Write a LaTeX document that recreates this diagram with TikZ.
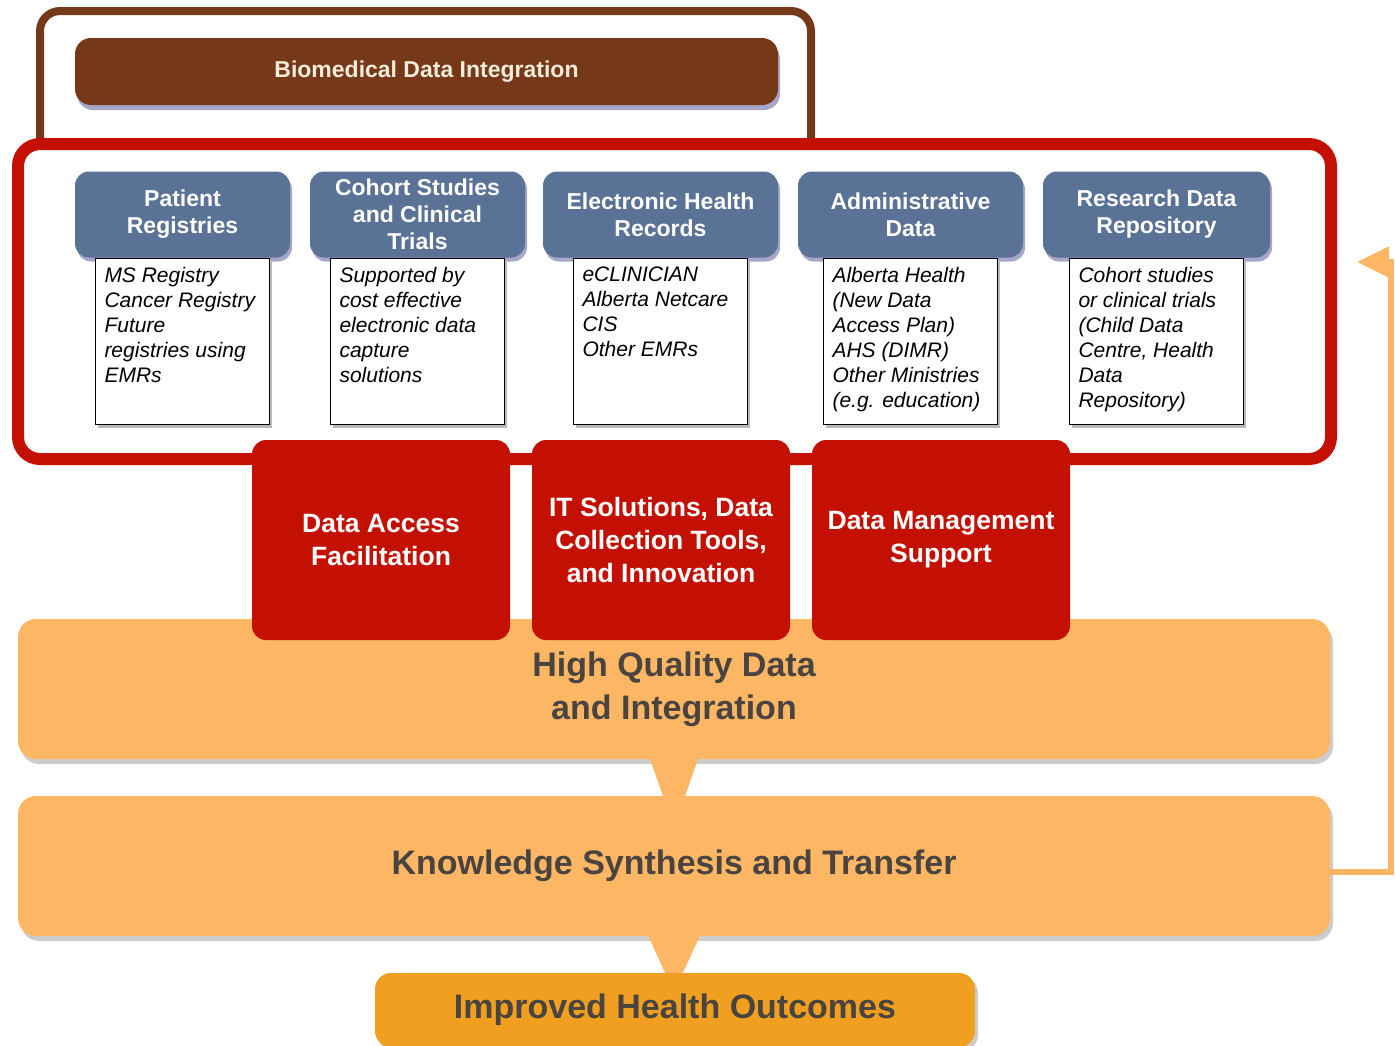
\documentclass[tikz,border=0pt]{standalone}
\usepackage{fontspec}
\setmainfont{Liberation Sans}
\usetikzlibrary{positioning, shadows, arrows.meta, calc}

\definecolor{bdibrown}{RGB}{117,57,26}
\definecolor{framered}{RGB}{196,16,2}
\definecolor{headblue}{RGB}{90,114,150}
\definecolor{bandorange}{RGB}{253,182,100}
\definecolor{outorange}{RGB}{241,159,32}
\definecolor{bandtext}{RGB}{74,68,64}
\definecolor{bartext}{RGB}{250,236,218}

% fixed-height text block for the white source boxes
\newcommand{\infolines}[1]{\parbox[c][148pt][t]{156pt}{\raggedright #1}}

\tikzset{
bdiframe/.style={draw=bdibrown, line width=8pt, rounded corners=20pt, fill=white}, % top frame
srcframe/.style={draw=framered, line width=12pt, rounded corners=22pt, fill=white}, % data sources frame
bdibar/.style={rectangle, rounded corners=16pt, fill=bdibrown, text=bartext,
  minimum width=703pt, minimum height=67pt, font=\bfseries\fontsize{23}{27}\selectfont,
  drop shadow={shadow xshift=2pt, shadow yshift=-5pt, fill=black!60!blue, opacity=0.35}},
srchead/.style={rectangle, rounded corners=14pt, fill=headblue, text=white, align=center,
  minimum height=86pt, inner sep=2pt, font=\bfseries\fontsize{23}{27}\selectfont,
  drop shadow={shadow xshift=2pt, shadow yshift=-4pt, fill=black!60!blue, opacity=0.35}},
srcinfo/.style={rectangle, draw=black, line width=1.2pt, fill=white, inner sep=9pt,
  font=\itshape\fontsize{21}{25}\selectfont,
  drop shadow={shadow xshift=2pt, shadow yshift=-4pt, opacity=0.55}},
svc/.style={rectangle, rounded corners=14pt, fill=framered, text=white, align=center,
  minimum width=258pt, minimum height=200pt, font=\bfseries\fontsize{26.5}{33}\selectfont},
band/.style={rectangle, rounded corners=18pt, fill=bandorange, text=bandtext, align=center,
  minimum width=1312pt, minimum height=140pt, font=\bfseries\fontsize{34}{43}\selectfont,
  drop shadow={shadow xshift=3pt, shadow yshift=-5pt, opacity=0.4}},
outcome/.style={rectangle, rounded corners=16pt, fill=outorange, text=bandtext,
  minimum width=600pt, minimum height=74pt, font=\bfseries\fontsize{34}{40}\selectfont,
  drop shadow={shadow xshift=3pt, shadow yshift=-4pt, opacity=0.4}},
funnel/.style={fill=bandorange},
fback/.style={draw=bandorange, line width=6pt, -{Triangle[length=32pt, width=30pt]}},
}

\begin{document}
\begin{tikzpicture}[x=1pt, y=-1pt]
\useasboundingbox (0,0) rectangle (1395,1045);
\clip (0,0) rectangle (1395,1045);

% frames
\draw[bdiframe] (40,11) rectangle (811,180);
\node[bdibar] (bdi) at (426.5,71.5) {Biomedical Data Integration};
\draw[srcframe] (18,144) rectangle (1331,459);

% data sources
\node[srchead, minimum width=215pt] (pat) at (182.5,214.5) {Patient\\Registries};
\node[srcinfo, below=0pt of pat] (patinfo) {\infolines{MS Registry\\Cancer Registry\\Future\\registries using\\EMRs}};
\node[srchead, minimum width=215pt] (coh) at (417.5,214.5) {Cohort Studies\\and Clinical\\Trials};
\node[srcinfo, below=0pt of coh] (cohinfo) {\infolines{Supported by\\cost effective\\electronic data\\capture\\solutions}};
\node[srchead, minimum width=235pt] (ehr) at (660.5,214.5) {Electronic Health\\Records};
\node[srcinfo, below=0pt of ehr] (ehrinfo) {\infolines{eCLINICIAN\\Alberta Netcare\\CIS\\Other EMRs}};
\node[srchead, minimum width=225pt] (adm) at (910.5,214.5) {Administrative\\Data};
\node[srcinfo, below=0pt of adm] (adminfo) {\infolines{Alberta Health\\(New Data\\Access Plan)\\AHS (DIMR)\\Other Ministries\\(e.g. education)}};
\node[srchead, minimum width=227pt] (rdr) at (1156.5,214.5) {Research Data\\Repository};
\node[srcinfo, below=0pt of rdr] (rdrinfo) {\infolines{Cohort studies\\or clinical trials\\(Child Data\\Centre, Health\\Data\\Repository)}};

% outcome chain
\node[band] (qual) at (674,689) {High Quality Data\\and Integration};
\node[band] (know) at (674,866) {Knowledge Synthesis and Transfer};
\node[outcome] (outc) at (675,1010) {Improved Health Outcomes};
\fill[funnel] ($(qual.south)+(-25,-3)$) -- ($(qual.south)+(25,-3)$) -- ($(know.north)+(10,3)$) -- ($(know.north)+(-10,3)$) -- cycle;
\fill[funnel] ($(know.south)+(-27,-3)$) -- ($(know.south)+(27,-3)$) -- ($(outc.north)+(8,0)$) -- ($(outc.north)+(-10,0)$) -- cycle;

% support services
\node[svc] (acc) at (381,540) {Data Access\\Facilitation};
\node[svc] (its) at (661,540) {IT Solutions, Data\\Collection Tools,\\and Innovation};
\node[svc] (dms) at (941,540) {Data Management\\Support};

% feedback
\coordinate (fbturn) at (1391,262);
\coordinate (fbtip) at (1357,262);
\draw[fback] ([yshift=-6pt]know.east) -| (fbturn) -- (fbtip);
\end{tikzpicture}
\end{document}
